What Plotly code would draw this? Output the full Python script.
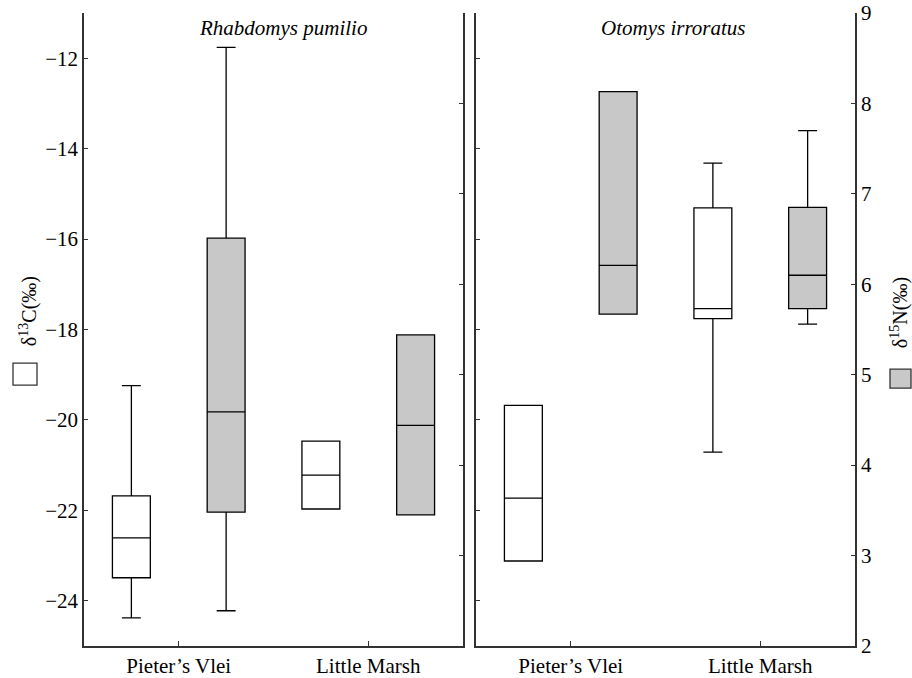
import plotly.graph_objects as go

categories = ["Pieter’s Vlei", "Little Marsh"]
panel_titles = ["Rhabdomys pumilio", "Otomys irroratus"]

# Rhabdomys pumilio — δ13C (open boxes)
rp_c_low = [-24.38, -21.97]
rp_c_q1 = [-23.49, -21.97]
rp_c_med = [-22.61, -21.22]
rp_c_q3 = [-21.68, -20.47]
rp_c_high = [-19.24, -20.47]
# Rhabdomys pumilio — δ15N (grey boxes)
rp_n_low = [2.39, 3.45]
rp_n_q1 = [3.48, 3.45]
rp_n_med = [4.59, 4.44]
rp_n_q3 = [6.51, 5.44]
rp_n_high = [8.62, 5.44]

# Otomys irroratus — δ13C (open boxes)
oi_c_low = [-23.12, -20.71]
oi_c_q1 = [-23.12, -17.76]
oi_c_med = [-21.73, -17.54]
oi_c_q3 = [-19.68, -15.31]
oi_c_high = [-19.68, -14.32]
# Otomys irroratus — δ15N (grey boxes)
oi_n_low = [5.67, 5.56]
oi_n_q1 = [5.67, 5.73]
oi_n_med = [6.21, 6.10]
oi_n_q3 = [8.13, 6.85]
oi_n_high = [8.13, 7.70]

c_ticks = [-24, -22, -20, -18, -16, -14, -12]
c_ticktext = ["\u221224", "\u221222", "\u221220", "\u221218", "\u221216", "\u221214", "\u221212"]
n_ticks = [2, 3, 4, 5, 6, 7, 8, 9]

FONT = "Liberation Serif"
LINE = dict(color="black", width=1.3)
GREY = "#c8c8c8"

fig = go.Figure()

def add_box(xa, ya, low, q1, med, q3, high, fill, og):
    fig.add_trace(go.Box(
        x=categories, lowerfence=low, q1=q1, median=med, q3=q3, upperfence=high,
        xaxis=xa, yaxis=ya, fillcolor=fill, line=LINE, whiskerwidth=0.5,
        offsetgroup=og, alignmentgroup="g_" + xa, showlegend=False, hoverinfo="skip",
    ))

add_box("x", "y", rp_c_low, rp_c_q1, rp_c_med, rp_c_q3, rp_c_high, "white", "c")
add_box("x", "y2", rp_n_low, rp_n_q1, rp_n_med, rp_n_q3, rp_n_high, GREY, "n")
add_box("x2", "y3", oi_c_low, oi_c_q1, oi_c_med, oi_c_q3, oi_c_high, "white", "c")
add_box("x2", "y4", oi_n_low, oi_n_q1, oi_n_med, oi_n_q3, oi_n_high, GREY, "n")

tickfont = dict(family=FONT, size=21, color="black")
common_y = dict(showline=True, linecolor="#333", linewidth=1.5, ticks="inside", ticklen=4,
                tickcolor="#333", showgrid=False, zeroline=False, tickfont=tickfont,
                automargin=False)
common_x = dict(showline=True, linecolor="#333", linewidth=1.5, ticks="inside", ticklen=5,
                tickcolor="#333", showgrid=False, zeroline=False, tickfont=tickfont,
                type="category", range=[-0.5, 1.5], automargin=False)

L, R = 84, 855
split_a = (463 - L) / (R - L)
split_b = (476 - L) / (R - L)

fig.update_layout(
    width=912, height=678,
    margin=dict(l=L, r=912 - R, t=13, b=32),
    paper_bgcolor="white", plot_bgcolor="white",
    boxmode="group", boxgap=0, boxgroupgap=0.6,
    font=dict(family=FONT, color="black"),
    xaxis=dict(domain=[0, split_a], anchor="y", **common_x),
    xaxis2=dict(domain=[split_b, 1], anchor="y3", **common_x),
    yaxis=dict(range=[-25, -11], anchor="x", side="left", tickvals=c_ticks, ticktext=c_ticktext, **common_y),
    yaxis2=dict(range=[2, 9], anchor="x", overlaying="y", side="right", tickvals=n_ticks,
                showticklabels=False, **common_y),
    yaxis3=dict(range=[-25, -11], anchor="x2", side="left", tickvals=c_ticks,
                showticklabels=False, **common_y),
    yaxis4=dict(range=[2, 9], anchor="x2", overlaying="y3", side="right", tickvals=n_ticks, **common_y),
)

H = 645.7 - 13
def py(pix):
    return (645.7 - pix) / H
def px(pix):
    return (pix - L) / (R - L)

for title, xc in zip(panel_titles, [283, 673]):
    fig.add_annotation(text="<i>" + title + "</i>", x=px(xc), y=py(28), xref="paper", yref="paper",
                       showarrow=False, xanchor="center", yanchor="middle",
                       font=dict(family=FONT, size=21, color="black"))

fig.add_annotation(text="δ<sup>13</sup>C(‰)", x=px(28), y=py(311), xref="paper", yref="paper",
                   showarrow=False, textangle=-90, xanchor="center", yanchor="middle",
                   font=dict(family=FONT, size=20, color="black"))
fig.add_annotation(text="δ<sup>15</sup>N(‰)", x=px(899), y=py(313), xref="paper", yref="paper",
                   showarrow=False, textangle=-90, xanchor="center", yanchor="middle",
                   font=dict(family=FONT, size=20, color="black"))

fig.add_shape(type="rect", xref="paper", yref="paper", x0=px(13), x1=px(37), y0=py(385), y1=py(363),
              line=dict(color="#333", width=1.3), fillcolor="white")
fig.add_shape(type="rect", xref="paper", yref="paper", x0=px(890), x1=px(911), y0=py(388), y1=py(369),
              line=dict(color="#333", width=1.3), fillcolor=GREY)

fig.write_html("out.html", config={"displayModeBar": False},
               post_script="document.body.style.margin='0';")
